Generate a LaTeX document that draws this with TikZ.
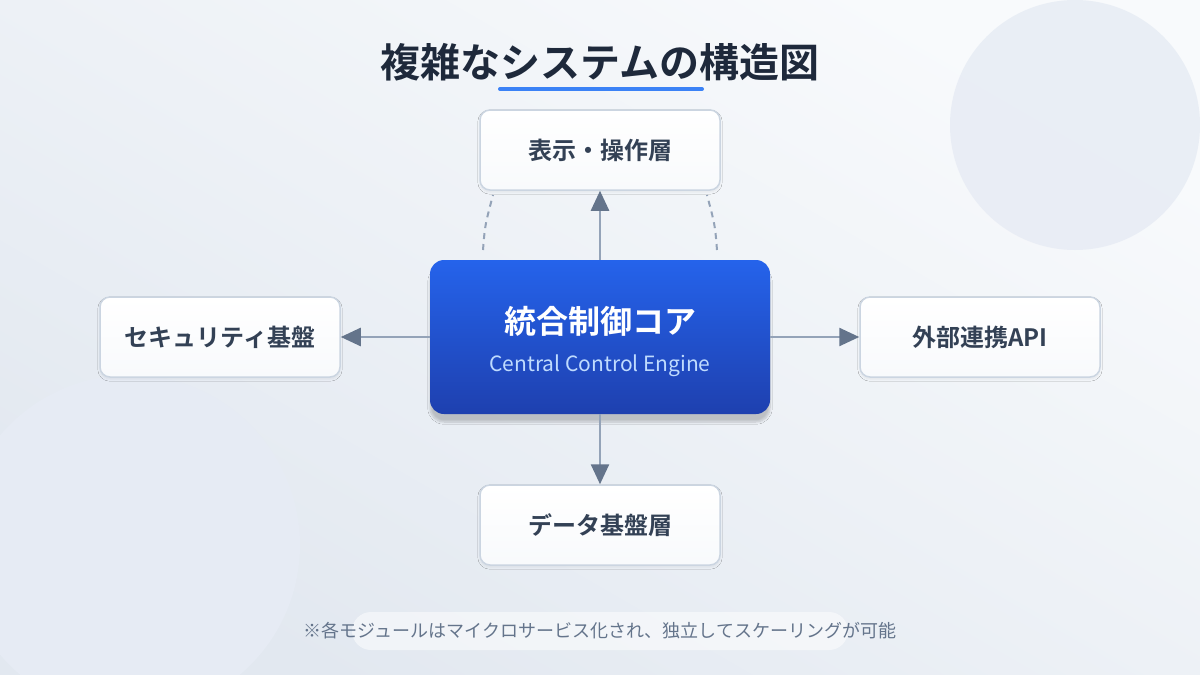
\documentclass[tikz,border=0pt]{standalone}
\usepackage{fontspec}
\setmainfont{Noto Sans CJK JP}[BoldFont={Noto Sans CJK JP Bold}]
\usetikzlibrary{arrows.meta,shadows.blur}
\definecolor{bgA}{HTML}{F8FAFC}
\definecolor{bgB}{HTML}{E2E8F0}
\definecolor{circ}{HTML}{E6EBF4}
\definecolor{titlec}{HTML}{1E293B}
\definecolor{bluel}{HTML}{3B82F6}
\definecolor{boxb}{HTML}{CBD5E1}
\definecolor{boxt}{HTML}{334155}
\definecolor{cA}{HTML}{2563EB}
\definecolor{cB}{HTML}{1E40AF}
\definecolor{subt}{HTML}{BFDBFE}
\definecolor{arr}{HTML}{64748B}
\definecolor{lin}{HTML}{94A3B8}
\begin{document}
\begin{tikzpicture}[x=1pt,y=-1pt,
  modbox/.style={draw=boxb,line width=1.5pt,rounded corners=10pt,top color=white,bottom color=bgA,minimum width=240pt,minimum height=80pt,text=boxt,font=\bfseries\fontsize{24}{28}\selectfont,blur shadow={shadow blur steps=5,shadow xshift=0pt,shadow yshift=-2pt,shadow opacity=6}},
  conn/.style={draw=lin,line width=2.5pt,-{Triangle[length=20pt,width=18pt,fill=arr,color=arr]}},
  dashc/.style={draw=lin,line width=2pt,dash pattern=on 6pt off 5pt}]
\useasboundingbox (0,0) rectangle (1200,675);
\shade[top color=bgA,bottom color=bgB,shading angle=-30] (0,0) rectangle (1200,675);
\begin{scope}
\clip (0,0) rectangle (1200,675);
\fill[circ,opacity=0.8] (1075,125) circle (125);
\fill[circ] (130,545) circle (170);
\end{scope}
\node[text=titlec,font=\bfseries\fontsize{40}{44}\selectfont] (title) at (600,62) {複雑なシステムの構造図};
\draw[bluel,line width=4pt,line cap=round] (500,89) coordinate (u1) -- (702,89) coordinate (u2);
\node[modbox] (top) at (600,150) {表示・操作層};
\node[modbox] (left) at (220,337) {セキュリティ基盤};
\node[modbox] (right) at (980,337) {外部連携API};
\node[modbox] (bot) at (600,525) {データ基盤層};
\node[rounded corners=14pt,top color=cA,bottom color=cB,minimum width=340pt,minimum height=154pt,blur shadow={shadow blur steps=8,shadow xshift=0pt,shadow yshift=-8pt,shadow opacity=20}] (core) at (600,337) {};
\node[text=white,font=\bfseries\fontsize{32}{36}\selectfont] (coret) at (600,321) {統合制御コア};
\node[text=subt,font=\fontsize{21}{24}\selectfont] (cores) at (600,366) {Central Control Engine};
\draw[conn] (core.north) -- (top.south);
\draw[conn] (core.west) -- (left.east);
\draw[conn] (core.east) -- (right.east-|right.west);
\draw[conn] (core.south) -- (bot.north);
\coordinate (d1a) at (483,250); \coordinate (d1b) at (493,195);
\coordinate (d2a) at (717,250); \coordinate (d2b) at (707,195);
\draw[dashc] (d1a) .. controls (485,225) .. (d1b);
\draw[dashc] (d2a) .. controls (715,225) .. (d2b);
\node[fill=white,fill opacity=0.5,text opacity=1,rounded corners=19pt,minimum width=496pt,minimum height=38pt] (note) at (600,631) {};
\node[text=arr,font=\fontsize{18}{22}\selectfont] (notet) at (600,631) {※各モジュールはマイクロサービス化され、独立してスケーリングが可能};
\end{tikzpicture}
\end{document}
